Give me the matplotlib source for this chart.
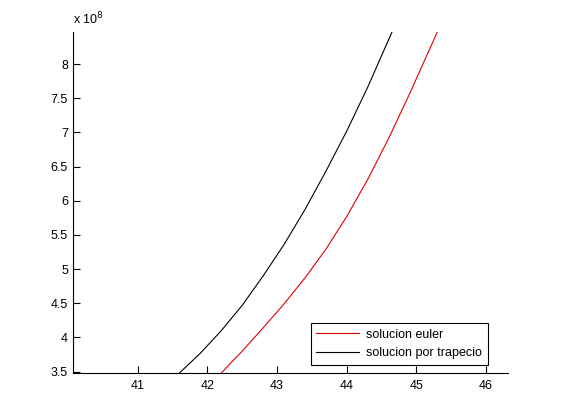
import numpy as np
import matplotlib.pyplot as plt
from matplotlib.ticker import FuncFormatter

plt.rcParams['font.family'] = ['Liberation Sans', 'DejaVu Sans']

# values (y in units of 1e8)
t_euler = [42.20, 42.50, 42.80, 43.10, 43.40, 43.70, 44.00, 44.30, 44.60, 44.90, 45.30]
y_euler = [3.48, 3.80, 4.14, 4.49, 4.87, 5.29, 5.77, 6.31, 6.91, 7.56, 8.47]
t_trap = [41.60, 41.90, 42.20, 42.50, 42.80, 43.10, 43.40, 43.70, 44.00, 44.30, 44.65]
y_trap = [3.48, 3.77, 4.10, 4.47, 4.90, 5.36, 5.87, 6.43, 7.02, 7.66, 8.47]
escala = 1e8

fig = plt.figure(figsize=(5.61, 4.2), dpi=100)
ax = fig.add_axes([0.13, 0.112, 0.775, 0.812])

ax.plot(t_euler, np.array(y_euler) * escala, color='#e00000', lw=0.8, label='solucion euler')
ax.plot(t_trap, np.array(y_trap) * escala, color='black', lw=0.8, label='solucion por trapecio')

ax.set_xlim(40.07, 46.31)
ax.set_ylim(3.48 * escala, 8.47 * escala)
ax.set_xticks([41, 42, 43, 44, 45, 46])
ax.set_yticks(np.arange(3.5, 8.01, 0.5) * escala)
ax.yaxis.set_major_formatter(FuncFormatter(lambda v, p: '%g' % round(v / escala, 2)))

for s in ['top', 'right']:
    ax.spines[s].set_visible(False)
ax.tick_params(direction='in', length=5, labelsize=9, width=0.8)
ax.tick_params(axis='x', pad=5)

ax.text(0.0, 1.015, r'x 10$^{8}$', transform=ax.transAxes, fontsize=9, ha='left', va='bottom')

leg = ax.legend(loc='lower right', bbox_to_anchor=(0.969, 0.005), fontsize=9,
                fancybox=False, framealpha=1, edgecolor='black', handlelength=3.4,
                borderpad=0.45, labelspacing=0.55, handletextpad=0.6)
leg.get_frame().set_linewidth(0.8)

fig.savefig('out.png', dpi=100)
